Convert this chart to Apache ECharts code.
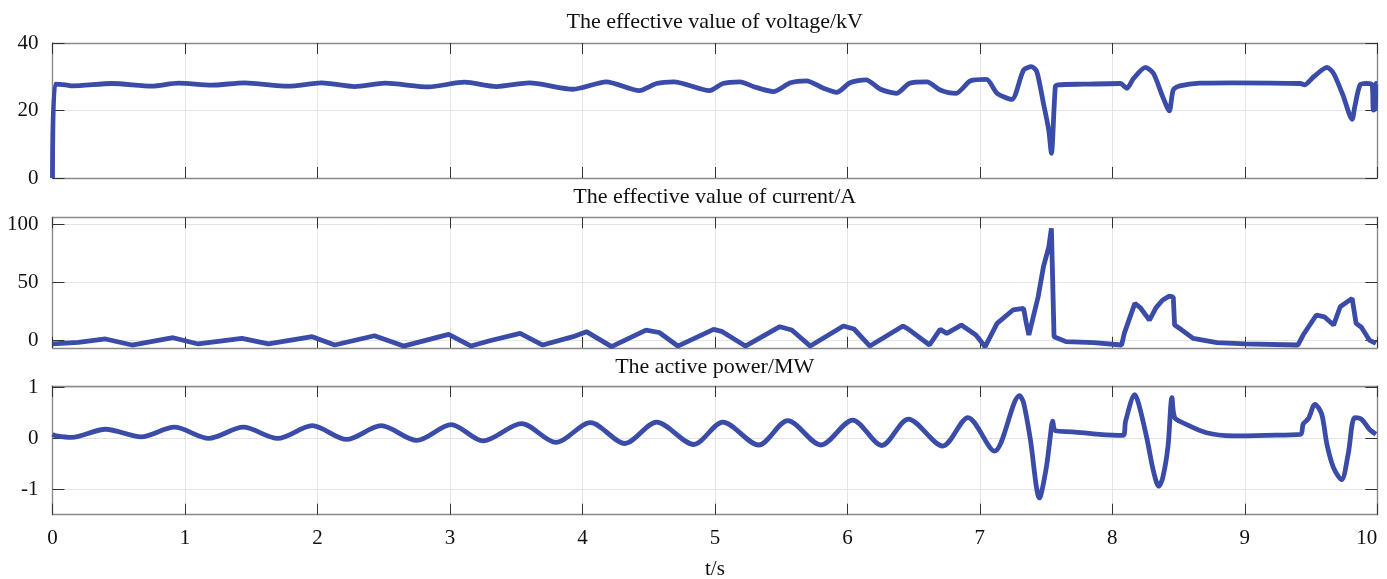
<!DOCTYPE html>
<html>
<head>
<meta charset="utf-8">
<script src="https://cdn.jsdelivr.net/npm/echarts@6/dist/echarts.min.js"></script>
<style>
  html, body { margin: 0; padding: 0; background: #fff; }
  #chart { width: 1387px; height: 579px; }
</style>
</head>
<body>
<div id="chart"></div>
<script>
// panel titles and axis text
const panelTitles = [
  "The effective value of voltage/kV",
  "The effective value of current/A",
  "The active power/MW"
];
const xTicks = [0, 1, 2, 3, 4, 5, 6, 7, 8, 9, 10];
const yTicks = [[0, 20, 40], [0, 50, 100], [-1, 0, 1]];

// voltage (kV)
const voltageTime = [0, 0.02, 0.1, 0.15, 0.45, 0.75, 0.95, 1.2, 1.45, 1.78, 2.03, 2.28, 2.51, 2.84, 3.11,
  3.35, 3.6, 3.93, 4.18, 4.43, 4.56, 4.69, 4.96, 5.06, 5.19, 5.29, 5.44, 5.57, 5.69, 5.82, 5.92,
  6.02, 6.14, 6.25, 6.37, 6.47, 6.6, 6.7, 6.82, 6.93, 7.05, 7.13, 7.24, 7.33, 7.39, 7.43, 7.48,
  7.52, 7.54, 7.57, 7.59, 7.78, 8.06, 8.11, 8.16, 8.25, 8.31, 8.38, 8.43, 8.46, 8.51, 8.66, 8.91,
  9.42, 9.45, 9.52, 9.62, 9.67, 9.74, 9.81, 9.83, 9.87, 9.92, 9.96, 9.97, 9.985, 9.99, 10];
const voltageValue = [0, 27.8, 27.6, 27.3, 28.0, 27.2, 28.1, 27.5, 28.2, 27.2, 28.2, 27.1, 28.1, 27.0, 28.4,
  27.1, 28.2, 26.3, 28.5, 25.9, 28.0, 28.5, 25.9, 28.0, 28.5, 27.1, 25.6, 28.2, 28.8, 26.6, 25.4,
  28.2, 29.1, 26.3, 25.1, 28.1, 28.5, 26.1, 25.1, 28.8, 29.2, 25.1, 23.3, 32.0, 33.0, 31.5, 22.1,
  14.2, 7.3, 27.1, 27.6, 27.8, 28.0, 26.6, 29.5, 32.8, 31.0, 24.1, 19.9, 26.1, 27.3, 28.1, 28.2,
  28.0, 27.6, 30.0, 32.8, 31.0, 24.6, 17.4, 21.1, 27.6, 28.0, 27.6, 20.1, 20.5, 28.0, 28.0];

// current (A)
const currentTime = [0, 0.195, 0.4, 0.6, 0.91, 1.1, 1.43, 1.63, 1.96, 2.13, 2.43, 2.65, 2.99, 3.16,
  3.3, 3.53, 3.7, 3.93, 4.03, 4.22, 4.48, 4.58, 4.72, 4.99, 5.05, 5.23, 5.49, 5.58, 5.72, 5.97,
  6.05, 6.17, 6.42, 6.47, 6.62, 6.7, 6.75, 6.86, 6.97, 7.04, 7.13, 7.25, 7.33, 7.35, 7.37, 7.44,
  7.48, 7.52, 7.54, 7.56, 7.65, 7.86, 8.07, 8.09, 8.17, 8.21, 8.28, 8.33, 8.38, 8.43, 8.46, 8.47,
  8.52, 8.61, 8.79, 9.0, 9.4, 9.44, 9.54, 9.6, 9.67, 9.72, 9.81, 9.84, 9.88, 9.94, 9.99];
const currentValue = [-3.4, -2.0, 0.9, -4.3, 2.0, -3.4, 1.4, -3.4, 2.9, -4.3, 3.7, -5.2, 4.9, -5.2,
  -0.6, 5.7, -4.3, 2.9, 7.2, -5.7, 8.6, 6.5, -5.2, 9.2, 7.5, -5.2, 11.5, 8.6, -5.2, 12.1,
  9.5, -5.2, 12.1, 8.6, -4.3, 9.2, 5.7, 12.9, 4.3, -5.7, 14.4, 25.9, 27.3, 15.0, 4.3, 37.3,
  63.2, 80.0, 96.3, 2.9, -1.4, -2.3, -4.3, 5.7, 31.6, 28.0, 17.2, 28.0, 34.5, 37.9, 37.0, 12.9,
  9.0, 1.4, -2.3, -3.4, -4.3, 4.3, 21.6, 20.0, 12.9, 28.7, 35.9, 14.4, 11.0, 0, -2.9];

// active power (MW)
const powerTime = [0, 0.03, 0.145, 0.4, 0.67, 0.92, 1.18, 1.44, 1.7, 1.96, 2.22, 2.48, 2.75, 3.01,
  3.25, 3.54, 3.8, 4.06, 4.32, 4.56, 4.84, 5.06, 5.33, 5.55, 5.8, 6.04, 6.26, 6.46, 6.72, 6.91,
  7.11, 7.3, 7.33, 7.38, 7.45, 7.5, 7.53, 7.55, 7.57, 7.7, 7.9, 8.08, 8.1, 8.17, 8.2, 8.26,
  8.31, 8.35, 8.38, 8.42, 8.45, 8.47, 8.53, 8.71, 8.91, 9.16, 9.42, 9.44, 9.48, 9.53, 9.58,
  9.62, 9.67, 9.73, 9.78, 9.83, 9.88, 9.94, 9.99];
const powerValue = [0.08, 0.05, 0.02, 0.18, 0.03, 0.22, 0.0, 0.22, 0.0, 0.25, -0.02, 0.25, -0.04, 0.27,
  -0.05, 0.29, -0.08, 0.31, -0.1, 0.32, -0.12, 0.32, -0.13, 0.35, -0.13, 0.36, -0.14, 0.38, -0.15, 0.41,
  -0.25, 0.84, 0.7, 0.0, -1.17, -0.6, 0.0, 0.34, 0.15, 0.13, 0.08, 0.06, 0.34, 0.86, 0.67, 0.01,
  -0.64, -0.94, -0.78, -0.16, 0.8, 0.41, 0.31, 0.11, 0.05, 0.06, 0.08, 0.28, 0.39, 0.67, 0.48,
  -0.12, -0.58, -0.81, -0.31, 0.41, 0.38, 0.18, 0.08];

const zip = (a, b) => a.map((t, i) => [t, b[i]]);

const chart = echarts.init(document.getElementById("chart"), null, { renderer: "canvas" });

const serif = "'Liberation Serif', 'Times New Roman', serif";
const boxColor = "#8a8a8a";
const gridColor = "#e4e4e4";
const tickColor = "#333";
const lineColor = "#3a4ca8";

const panels = [
  { top: 43, height: 135, min: 0, max: 40, smooth: 0.25, data: zip(voltageTime, voltageValue), titleY: 22 },
  { top: 217.3, height: 130.5, min: -6.7, max: 105.8, smooth: false, data: zip(currentTime, currentValue), titleY: 197 },
  { top: 386, height: 128.7, min: -1.5, max: 1.03, smooth: 0.3, data: zip(powerTime, powerValue), titleY: 367 }
];

const grid = [], xAxis = [], yAxis = [], series = [], graphic = [];

panels.forEach((p, i) => {
  grid.push({ left: 52.5, right: 9.7, top: p.top, height: p.height, outerBoundsMode: "none" });
  const last = i === panels.length - 1;
  // bottom x axis
  xAxis.push({
    type: "value", gridIndex: i, min: 0, max: 10, interval: 1, position: "bottom",
    axisLine: { show: true, onZero: false, lineStyle: { color: boxColor, width: 1.4 } },
    axisTick: { show: true, inside: true, length: 11, lineStyle: { color: tickColor } },
    axisLabel: {
      show: last, margin: 13, fontFamily: serif, fontSize: 21, color: "#111",
      alignMaxLabel: "right", customValues: xTicks
    },
    splitLine: { show: true, lineStyle: { color: gridColor, width: 1 } },
    name: last ? "t/s" : "", nameLocation: "middle", nameGap: 44,
    nameTextStyle: { fontFamily: serif, fontSize: 21, color: "#111" }
  });
  // top x axis (box edge)
  xAxis.push({
    type: "value", gridIndex: i, min: 0, max: 10, interval: 1, position: "top",
    axisLine: { show: true, onZero: false, lineStyle: { color: boxColor, width: 1.4 } },
    axisTick: { show: true, inside: true, length: 11, lineStyle: { color: tickColor } },
    axisLabel: { show: false }, splitLine: { show: false }
  });
  // left y axis
  yAxis.push({
    type: "value", gridIndex: i, min: p.min, max: p.max, position: "left",
    axisLine: { show: true, onZero: false, lineStyle: { color: boxColor, width: 1.4 } },
    axisTick: { show: true, inside: true, length: 12, lineStyle: { color: tickColor }, customValues: yTicks[i] },
    axisLabel: { margin: 14, fontFamily: serif, fontSize: 21, color: "#111", customValues: yTicks[i] },
    splitLine: { show: true, lineStyle: { color: gridColor, width: 1 } }
  });
  // right y axis (box edge)
  yAxis.push({
    type: "value", gridIndex: i, min: p.min, max: p.max, position: "right",
    axisLine: { show: true, onZero: false, lineStyle: { color: boxColor, width: 1.4 } },
    axisTick: { show: true, inside: true, length: 12, lineStyle: { color: tickColor }, customValues: yTicks[i] },
    axisLabel: { show: false, customValues: yTicks[i] },
    splitLine: { show: false }
  });
  series.push({
    type: "line", xAxisIndex: 2 * i, yAxisIndex: 2 * i, data: p.data,
    showSymbol: false, smooth: p.smooth, silent: true,
    lineStyle: { color: lineColor, width: 4.8 }, z: 3
  });
  graphic.push({
    type: "text", x: 714.7, y: p.titleY,
    style: {
      text: panelTitles[i], fill: "#111", font: "22px " + serif,
      align: "center", verticalAlign: "middle"
    }
  });
});

chart.setOption({
  animation: false,
  backgroundColor: "#fff",
  grid: grid,
  xAxis: xAxis,
  yAxis: yAxis,
  series: series,
  graphic: graphic
});
</script>
</body>
</html>
